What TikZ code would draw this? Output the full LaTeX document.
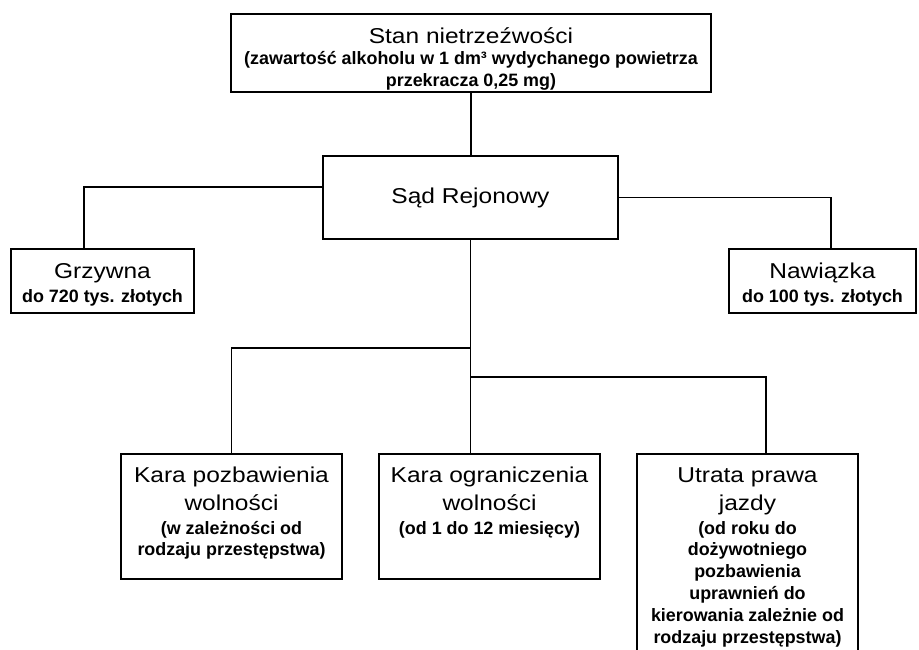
\documentclass[tikz,border=0pt]{standalone}
\usepackage{fontspec}
\setmainfont{Liberation Sans}[FakeStretch=1.14]
\newfontfamily\notefont{Liberation Sans}
\usetikzlibrary{positioning,calc}
\newcommand{\bigtxt}{\fontsize{21.5}{28}\selectfont}
\newcommand{\smalltxt}{\notefont\fontsize{17.9}{21.8}\selectfont\bfseries}
\newcommand{\boxtext}[3]{\parbox[c][#2][t]{#1}{\centering #3}}

\begin{document}
\begin{tikzpicture}[x=1pt,y=-1pt,box/.style={draw,line width=2.3pt,inner sep=0pt},link/.style={line width=1.5pt}]
    \path[use as bounding box,fill=white] (0,0) rectangle (919,649);
    \clip (0,0) rectangle (919,649);
    \node[box] (stan) at (471,53) {\boxtext{480pt}{78pt}{\bigtxt\rule{0pt}{29pt}Stan nietrzeźwości\par\smalltxt(zawartość alkoholu w 1 dm³ wydychanego powietrza\\przekracza 0,25 mg)}};
    \node[box] (sad) at (470.5,197.5) {\boxtext{295pt}{83pt}{\bigtxt\rule{0pt}{47pt}Sąd Rejonowy}};
    \node[box] (grz) at (102.5,281) {\boxtext{183pt}{64pt}{\bigtxt\rule{0pt}{29pt}Grzywna\par\smalltxt\vspace{3pt}do 720 tys. złotych}};
    \node[box] (naw) at (822.5,281) {\boxtext{187pt}{64pt}{\bigtxt\rule{0pt}{29pt}Nawiązka\par\smalltxt\vspace{3pt}do 100 tys. złotych}};
    \node[box] (poz) at (231.5,516.5) {\boxtext{221pt}{125pt}{\bigtxt\rule{0pt}{28pt}Kara pozbawienia\\wolności\par\smalltxt\vspace{2.2pt}(w zależności od\\rodzaju przestępstwa)}};
    \node[box] (ogr) at (489.5,516.5) {\boxtext{221pt}{125pt}{\bigtxt\rule{0pt}{28pt}Kara ograniczenia\\wolności\par\smalltxt\vspace{2.2pt}(od 1 do 12 miesięcy)}};
    \node[box] (utr) at (747.5,567) {\boxtext{221pt}{226pt}{\bigtxt\rule{0pt}{28pt}Utrata prawa\\jazdy\par\smalltxt\vspace{2.2pt}(od roku do\\dożywotniego\\pozbawienia\\uprawnień do\\kierowania zależnie od\\rodzaju przestępstwa)}};
    \draw[link] (stan.south) -- (stan.south |- sad.north);
    \draw[link] ([yshift=10.5pt]sad.west) -| ([xshift=-18.5pt]grz.north);
    \draw[link] (sad.east) -| ([xshift=8.5pt]naw.north);
    \draw[link] (sad.south) -- (sad.south |- ogr.north);
    \draw[link] ([yshift=-108pt]sad.south) -| (poz.north);
    \draw[link] ([yshift=-137pt]sad.south) -| ([xshift=18.5pt]utr.north);
  \end{tikzpicture}
\end{document}
